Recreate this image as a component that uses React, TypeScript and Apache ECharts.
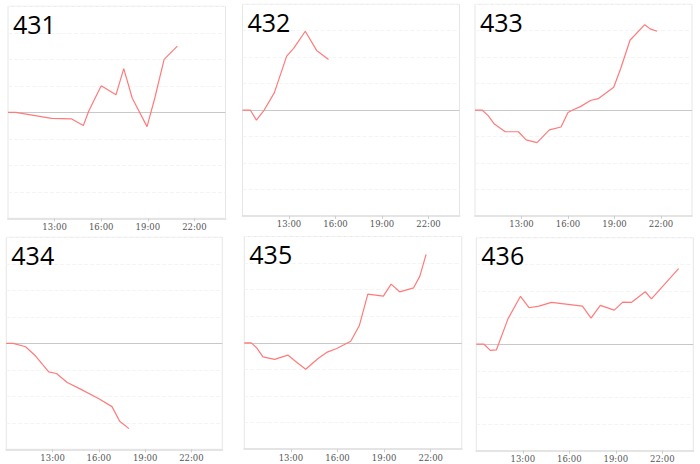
import React, { useEffect, useRef } from "react";
import * as echarts from "echarts";

const panelNames = ["431", "432", "433", "434", "435", "436"];
const tickHours = [13, 16, 19, 22];

const times431 = [10, 10.5, 12.8, 14.1, 14.85, 15.2, 16, 16.95, 17.45, 18, 18.95, 19.45, 20.05, 20.9];
const values431 = [0, 0, -0.23, -0.25, -0.5, 0.05, 1.0, 0.66, 1.65, 0.53, -0.54, 0.54, 2.0, 2.5];

const times432 = [10, 10.5, 10.9, 11.4, 12.05, 12.85, 13.3, 14.05, 14.8, 15.55];
const values432 = [0, 0, -0.38, 0, 0.65, 2.04, 2.33, 2.98, 2.24, 1.91];

const times433 = [10, 10.45, 10.85, 11.25, 11.95, 12.8, 13.3, 14.0, 14.8, 15.55, 16.0, 16.3, 16.8, 17.45, 17.95, 18.95, 19.4, 20.0, 20.95, 21.3, 21.75];
const values433 = [0, 0, -0.21, -0.53, -0.82, -0.82, -1.13, -1.23, -0.75, -0.64, -0.09, 0, 0.13, 0.36, 0.43, 0.86, 1.57, 2.64, 3.23, 3.07, 2.98];

const times434 = [10, 10.45, 11.25, 11.9, 12.75, 13.25, 13.95, 14.75, 16.0, 16.85, 17.35, 17.95];
const values434 = [0, 0, -0.13, -0.48, -1.08, -1.14, -1.48, -1.71, -2.09, -2.39, -2.94, -3.22];

const times435 = [10, 10.45, 10.8, 11.2, 11.95, 12.8, 13.35, 13.95, 14.75, 15.3, 15.95, 16.85, 17.4, 17.95, 18.95, 19.45, 20.0, 20.9, 21.3, 21.7];
const values435 = [0, 0, -0.19, -0.53, -0.62, -0.46, -0.72, -0.99, -0.59, -0.36, -0.21, 0.06, 0.64, 1.83, 1.76, 2.21, 1.92, 2.07, 2.51, 3.33];

const times436 = [10, 10.5, 10.9, 11.3, 12.05, 12.85, 13.4, 14.05, 14.85, 16.85, 17.4, 18.0, 18.9, 19.45, 20.0, 20.9, 21.3, 23.05];
const values436 = [0, 0, -0.23, -0.21, 0.96, 1.8, 1.37, 1.43, 1.57, 1.43, 0.98, 1.46, 1.28, 1.58, 1.57, 1.97, 1.7, 2.84];

const allTimes = [times431, times432, times433, times434, times435, times436];
const allValues = [values431, values432, values433, values434, values435, values436];

// grid boxes: [left, top, width, height]
const boxes = [
  [8, 6.3, 217.5, 212],
  [242.5, 4.3, 217, 211.5],
  [475, 4.3, 217, 211.5],
  [6.3, 237.3, 216, 212],
  [244.3, 236.5, 217.5, 212.7],
  [476.3, 237.7, 217, 213],
];

export default function App() {
  const ref = useRef<HTMLDivElement>(null);
  useEffect(() => {
    document.body.style.margin = "0";
    const chart = echarts.init(ref.current!, null, { renderer: "svg" });
    const grids: any[] = [];
    const xAxes: any[] = [];
    const yAxes: any[] = [];
    const series: any[] = [];
    const titles: any[] = [];
    boxes.forEach((b, i) => {
      grids.push({
        left: b[0],
        top: b[1],
        width: b[2],
        height: b[3],
        show: true,
        borderColor: "#e6e6e6",
        borderWidth: 1,
        backgroundColor: "#fff",
      });
      xAxes.push({
        type: "value",
        gridIndex: i,
        min: 10,
        max: 24,
        axisLine: { show: true, onZero: false, lineStyle: { color: "#e4e4e4", width: 2 } },
        axisTick: { show: true, customValues: tickHours, length: 3, lineStyle: { color: "#ccc" } },
        axisLabel: {
          customValues: tickHours,
          formatter: (v: number) => `${v}:00`,
          fontSize: 8.5,
          color: "#555",
          margin: 4,
          fontFamily: "DejaVu Serif",
        },
        splitLine: { show: false },
      });
      yAxes.push({
        type: "value",
        gridIndex: i,
        min: -4,
        max: 4,
        interval: 1,
        axisLine: { show: false },
        axisTick: { show: false },
        axisLabel: { show: false },
        splitLine: { show: true, lineStyle: { color: "#f4f4f4", type: "dashed", width: 1 } },
      });
      titles.push({
        text: panelNames[i],
        left: b[0] + 5,
        top: b[1] + 5,
        padding: 0,
        textStyle: { fontSize: 25, fontWeight: "normal", color: "#000", fontFamily: "Open Sans" },
      });
      series.push({
        type: "line",
        xAxisIndex: i,
        yAxisIndex: i,
        data: allTimes[i].map((t, k) => [t, allValues[i][k]]),
        symbol: "none",
        lineStyle: { color: "#ff7b7b", width: 1.2 },
        itemStyle: { color: "#ff7b7b" },
        silent: true,
        z: 3,
        markLine: {
          silent: true,
          symbol: "none",
          z: 1,
          label: { show: false },
          lineStyle: { color: "#c8c8c8", type: "solid", width: 1.2 },
          data: [{ yAxis: 0 }],
        },
      });
    });
    chart.setOption({
      animation: false,
      title: titles,
      grid: grids,
      xAxis: xAxes,
      yAxis: yAxes,
      series,
    });
    return () => chart.dispose();
  }, []);
  return <div ref={ref} style={{ width: 700, height: 464 }} />;
}
